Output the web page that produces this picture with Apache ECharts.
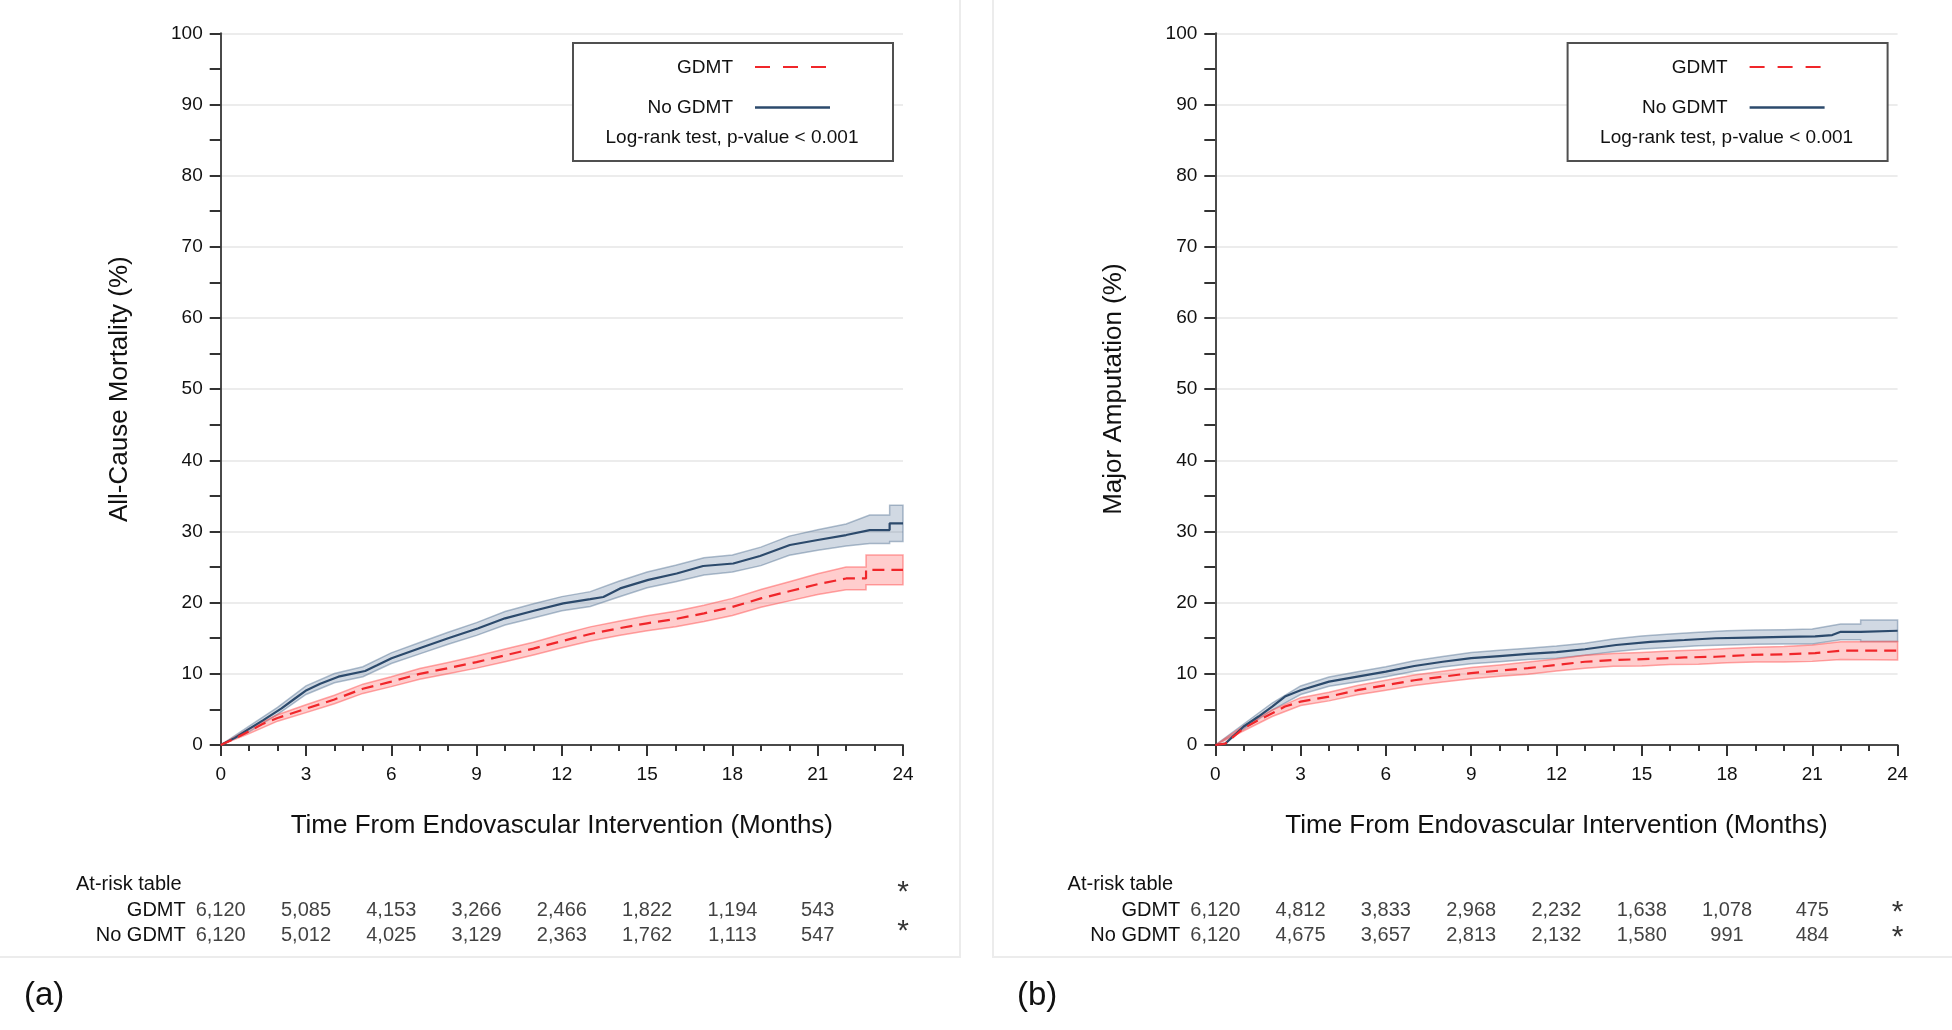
<!DOCTYPE html>
<html><head><meta charset="utf-8">
<script src="https://cdn.jsdelivr.net/npm/echarts@6/dist/echarts.min.js"></script>
<style>html,body{margin:0;padding:0;background:#fff}#c{width:1952px;height:1030px}</style>
</head><body><div id="c"></div>
<script>
// ---------------- DATA ----------------
const xTickLabels = [0,3,6,9,12,15,18,21,24];
const riskTimes = [0,3,6,9,12,15,18,21];
const aRiskGDMT = [6120,5085,4153,3266,2466,1822,1194,543];
const aRiskNo   = [6120,5012,4025,3129,2363,1762,1113,547];
const bRiskGDMT = [6120,4812,3833,2968,2232,1638,1078,475];
const bRiskNo   = [6120,4675,3657,2813,2132,1580,991,484];

// Panel (a) All-cause mortality - No GDMT line
const aNoT = [0,0.5,0.97,1.5,2.14,2.6,3.02,3.5,4.14,5.08,5.5,6.01,7.07,8,9.06,10,11.05,12.05,13,13.46,14.05,15.04,16.04,16.97,18.03,18.97,20.02,21,22,22.83,23.53,23.53,24];
const aNoV = [0,1.0,2.2,3.5,5.15,6.5,7.7,8.6,9.6,10.4,11.2,12.2,13.7,15.0,16.4,17.8,18.9,19.9,20.5,20.8,22.0,23.2,24.1,25.15,25.5,26.55,28.1,28.8,29.5,30.2,30.2,31.15,31.15];
// Panel (a) No GDMT confidence band
const aNoBandT = [0,1,2,3,4,5,6,7,8,9,10,11,12,13,14,15,16,17,18,19,20,21,22,22.83,23.53,23.53,24];
const aNoLo = [0,1.85,4.3,7.1,8.75,9.6,11.45,12.8,14.15,15.4,16.85,17.85,18.85,19.45,20.8,22.1,22.95,23.9,24.3,25.2,26.65,27.35,27.95,28.3,28.3,28.6,28.6];
const aNoHi = [0,2.65,5.3,8.3,10.05,11.0,12.95,14.4,15.85,17.2,18.75,19.85,20.85,21.55,23.0,24.3,25.25,26.3,26.7,27.8,29.35,30.25,31.05,32.3,32.3,33.7,33.7];
// Panel (a) GDMT line
const aGT = [0,0.5,1,1.5,2,3,4,5,6,7,8,9,10,11,12,13,14,15,16,17,18,19,20,21,22,22.7,22.7,24];
const aGV = [0,0.9,1.95,3.0,3.8,5.1,6.4,7.9,8.9,10.0,10.8,11.65,12.6,13.55,14.6,15.6,16.4,17.1,17.7,18.5,19.4,20.6,21.6,22.6,23.4,23.4,24.6,24.6];
// Panel (a) GDMT band
const aGBandT = [0,1,2,3,4,5,6,7,8,9,10,11,12,13,14,15,16,17,18,19,20,21,22,22.7,22.7,24];
const aGLo = [0,1.6,3.35,4.55,5.8,7.25,8.2,9.25,10.0,10.8,11.7,12.65,13.65,14.6,15.4,16.05,16.6,17.35,18.2,19.35,20.25,21.15,21.8,21.8,22.5,22.5];
const aGHi = [0,2.3,4.25,5.65,7.0,8.55,9.6,10.75,11.6,12.5,13.5,14.45,15.55,16.6,17.4,18.15,18.8,19.65,20.6,21.85,22.95,24.05,25.0,25.0,26.7,26.7];

// Panel (b) Major amputation - No GDMT line
const bNoT = [0,0.35,1.0,1.52,2.0,2.45,3.0,4.0,5.0,6.0,7.0,8.0,9.0,10.0,11.0,12.0,13.0,14.1,15.3,16.5,17.6,18.8,20.0,21.1,21.7,22.0,22.7,22.7,24];
const bNoV = [0,0.2,2.6,4.0,5.4,6.8,7.7,8.9,9.6,10.3,11.1,11.7,12.2,12.5,12.8,13.05,13.45,14.05,14.5,14.75,15.0,15.1,15.2,15.25,15.45,15.9,15.9,16.05,16.05];
const bNoBandT = [0,1,2,3,4,5,6,7,8,9,10,11,12,13,14,15,16,17,18,19,20,21,22,22.7,22.7,24];
const bNoLo = [0,2.25,4.9,7.1,8.25,8.9,9.6,10.35,10.95,11.4,11.7,12.0,12.2,12.6,13.1,13.5,13.7,13.95,14.05,14.15,14.2,14.2,14.8,14.8,14.55,14.55];
const bNoHi = [0,2.95,5.9,8.3,9.55,10.3,11.0,11.85,12.45,13.0,13.3,13.6,13.9,14.3,14.9,15.3,15.6,15.85,16.05,16.15,16.2,16.3,17.0,17.0,17.55,17.55];
// Panel (b) GDMT line
const bGT = [0,0.35,1.0,1.52,2.0,2.45,3.0,4.0,5.0,6.0,7.0,8.0,9.0,10.0,11.0,12.0,13.0,14.1,15.3,16.5,17.6,18.8,20.0,21.1,22.0,24];
const bGV = [0,0.2,2.35,3.5,4.45,5.4,6.1,6.8,7.7,8.4,9.1,9.6,10.1,10.45,10.8,11.25,11.7,11.95,12.1,12.3,12.4,12.65,12.75,12.9,13.25,13.25];
const bGBandT = [0,1,2,3,4,5,6,7,8,9,10,11,12,13,14,15,16,17,18,19,20,21,22,24];
const bGLo = [0,2.0,4.0,5.55,6.2,7.05,7.7,8.35,8.85,9.3,9.65,9.95,10.4,10.8,11.05,11.1,11.3,11.35,11.55,11.65,11.65,11.75,12.0,11.95];
const bGHi = [0,2.7,4.9,6.65,7.4,8.35,9.1,9.85,10.35,10.9,11.25,11.65,12.1,12.6,12.85,13.0,13.2,13.35,13.55,13.75,13.85,14.05,14.5,14.55];

const seriesNames = ['GDMT','No GDMT'];
const yTitles = ['All-Cause Mortality (%)','Major Amputation (%)'];
const xTitle = 'Time From Endovascular Intervention (Months)';
const legendNote = 'Log-rank test, p-value < 0.001';
const tableTitle = 'At-risk table';
const panelTags = ['(a)','(b)'];

// ---------------- STYLE ----------------
const FONT = '"Liberation Sans", Arial, Helvetica, sans-serif';
const BLUE = '#2c4a6c', RED = '#f0262a';
const BLUE_FILL = 'rgba(90,120,155,0.28)', BLUE_EDGE = 'rgba(80,110,145,0.45)';
const RED_FILL = 'rgba(255,90,90,0.30)', RED_EDGE = 'rgba(255,80,80,0.50)';
const TXT = '#111';
const PANEL_DX = 994.6;
const G = {left:220.7, top:33.3, width:682.3, height:711.7};

const zip = (t, v) => t.map((x, i) => [x, v[i]]);

function band(idx, T, lo, hi, fill, stroke) {
  return {
    type: 'custom', coordinateSystem: 'cartesian2d', xAxisIndex: idx, yAxisIndex: idx,
    silent: true, data: [[T[0], lo[0]]],
    renderItem: (params, api) => {
      const pts = [];
      for (let i = 0; i < T.length; i++) pts.push(api.coord([T[i], hi[i]]));
      for (let i = T.length - 1; i >= 0; i--) pts.push(api.coord([T[i], lo[i]]));
      return {type: 'polygon', shape: {points: pts}, style: {fill: fill, stroke: stroke, lineWidth: 1.5}};
    }
  };
}
function line(idx, name, T, V, color, dashed) {
  return {
    type: 'line', name: name, xAxisIndex: idx, yAxisIndex: idx, data: zip(T, V),
    showSymbol: false, symbol: 'none', silent: true,
    lineStyle: {color: color, width: 2.2, type: dashed ? [12, 7] : 'solid'}
  };
}
function mainX(gi) {
  return {
    gridIndex: gi, type: 'value', min: 0, max: 24, interval: 3,
    name: xTitle, nameLocation: 'middle', nameGap: 68,
    nameTextStyle: {fontSize: 26, color: TXT, fontFamily: FONT},
    axisLine: {lineStyle: {color: '#4a4a4a', width: 2}},
    axisTick: {show: true, length: 11, lineStyle: {color: '#333', width: 2}},
    minorTick: {show: true, splitNumber: 3, length: 6, lineStyle: {color: '#333', width: 2}},
    axisLabel: {fontSize: 19, color: TXT, fontFamily: FONT, margin: 20,
      formatter: v => xTickLabels.includes(v) ? String(v) : ''},
    splitLine: {show: false}
  };
}
function mainY(gi, title) {
  return {
    gridIndex: gi, type: 'value', min: 0, max: 100, interval: 10,
    name: title, nameLocation: 'middle', nameGap: 88,
    nameTextStyle: {fontSize: 26, color: TXT, fontFamily: FONT},
    axisLine: {show: true, lineStyle: {color: '#4a4a4a', width: 2}},
    axisTick: {show: true, length: 11, lineStyle: {color: '#333', width: 2}},
    minorTick: {show: true, splitNumber: 2, length: 11, lineStyle: {color: '#333', width: 2}},
    axisLabel: {fontSize: 19, color: TXT, fontFamily: FONT, margin: 18},
    splitLine: {show: true, lineStyle: {color: '#ececec', width: 2}}
  };
}
function tableX(gi) {
  return {gridIndex: gi, type: 'value', min: 0, max: 24, show: false};
}
function tableY(gi) {
  return {
    gridIndex: gi, type: 'category', data: seriesNames, inverse: true,
    axisLine: {show: false}, axisTick: {show: false}, splitLine: {show: false},
    axisLabel: {fontSize: 20, color: TXT, fontFamily: FONT, margin: 35, interval: 0, hideOverlap: false}
  };
}
function tableSeries(gi, rowG, rowN) {
  const data = [];
  riskTimes.forEach((t, i) => { data.push([t, 0, rowG[i]]); data.push([t, 1, rowN[i]]); });
  return {
    type: 'scatter', xAxisIndex: gi, yAxisIndex: gi, data: data, symbolSize: 1, silent: true,
    itemStyle: {color: 'rgba(0,0,0,0)'},
    label: {show: true, position: 'inside', fontSize: 20, color: TXT, fontFamily: FONT,
      formatter: p => Number(p.value[2]).toLocaleString('en-US')}
  };
}
function starSeries(gi, offs) {
  return {
    type: 'scatter', xAxisIndex: gi, yAxisIndex: gi, data: [[24, 0], [24, 1]], symbolSize: 1, silent: true,
    itemStyle: {color: 'rgba(0,0,0,0)'},
    label: {show: true, position: 'inside', fontSize: 30, color: '#000', fontFamily: FONT, formatter: '*'},
    labelLayout: p => ({dy: offs[p.dataIndex]})
  };
}
function legendGraphic(dx) {
  const f = '19px ' + FONT;
  return [
    {type: 'rect', z: 50, shape: {x: 573 + dx, y: 43, width: 320, height: 118},
      style: {fill: '#fff', stroke: '#505050', lineWidth: 2}},
    {type: 'text', z: 51, x: 733 + dx, y: 68, style: {text: seriesNames[0], font: f, fill: TXT, textAlign: 'right', textVerticalAlign: 'middle'}},
    {type: 'line', z: 51, shape: {x1: 755 + dx, y1: 67, x2: 830 + dx, y2: 67}, style: {stroke: RED, lineWidth: 2, lineDash: [15, 13]}},
    {type: 'text', z: 51, x: 733 + dx, y: 108, style: {text: seriesNames[1], font: f, fill: TXT, textAlign: 'right', textVerticalAlign: 'middle'}},
    {type: 'line', z: 51, shape: {x1: 755 + dx, y1: 107.5, x2: 830 + dx, y2: 107.5}, style: {stroke: BLUE, lineWidth: 2.5}},
    {type: 'text', z: 51, x: 732 + dx, y: 138, style: {text: legendNote, font: f, fill: TXT, textAlign: 'center', textVerticalAlign: 'middle'}}
  ];
}

const chart = echarts.init(document.getElementById('c'), null, {renderer: 'canvas'});
const option = {
  animation: false,
  backgroundColor: '#fff',
  textStyle: {fontFamily: FONT},
  grid: [
    Object.assign({}, G, {outerBoundsMode: 'none', containLabel: false}),
    Object.assign({}, G, {left: G.left + PANEL_DX, outerBoundsMode: 'none', containLabel: false}),
    {left: G.left, width: G.width, top: 897.5, height: 50, outerBoundsMode: 'none', containLabel: false},
    {left: G.left + PANEL_DX, width: G.width, top: 897.5, height: 50, outerBoundsMode: 'none', containLabel: false}
  ],
  xAxis: [mainX(0), mainX(1), tableX(2), tableX(3)],
  yAxis: [mainY(0, yTitles[0]), mainY(1, yTitles[1]), tableY(2), tableY(3)],
  series: [
    band(0, aNoBandT, aNoLo, aNoHi, BLUE_FILL, BLUE_EDGE),
    band(0, aGBandT, aGLo, aGHi, RED_FILL, RED_EDGE),
    line(0, seriesNames[1], aNoT, aNoV, BLUE, false),
    line(0, seriesNames[0], aGT, aGV, RED, true),
    band(1, bNoBandT, bNoLo, bNoHi, BLUE_FILL, BLUE_EDGE),
    band(1, bGBandT, bGLo, bGHi, RED_FILL, RED_EDGE),
    line(1, seriesNames[1], bNoT, bNoV, BLUE, false),
    line(1, seriesNames[0], bGT, bGV, RED, true),
    tableSeries(2, aRiskGDMT, aRiskNo),
    tableSeries(3, bRiskGDMT, bRiskNo),
    starSeries(2, [-17, -3]),
    starSeries(3, [3, 3])
  ],
  graphic: [
    {type: 'rect', z: -1, shape: {x: -2, y: -2, width: 962, height: 959}, style: {fill: 'none', stroke: '#ececec', lineWidth: 2}},
    {type: 'rect', z: -1, shape: {x: 993, y: -2, width: 962, height: 959}, style: {fill: 'none', stroke: '#ececec', lineWidth: 2}},
    ...legendGraphic(0),
    ...legendGraphic(PANEL_DX),
    {type: 'text', x: 76, y: 884, style: {text: tableTitle, font: '20px ' + FONT, fill: TXT, textAlign: 'left', textVerticalAlign: 'middle'}},
    {type: 'text', x: 76 + PANEL_DX - 3, y: 884, style: {text: tableTitle, font: '20px ' + FONT, fill: TXT, textAlign: 'left', textVerticalAlign: 'middle'}},
    {type: 'text', x: 24, y: 996, style: {text: panelTags[0], font: '33px ' + FONT, fill: TXT, textAlign: 'left', textVerticalAlign: 'middle'}},
    {type: 'text', x: 1017, y: 996, style: {text: panelTags[1], font: '33px ' + FONT, fill: TXT, textAlign: 'left', textVerticalAlign: 'middle'}}
  ]
};
chart.setOption(option);
</script>
</body></html>
